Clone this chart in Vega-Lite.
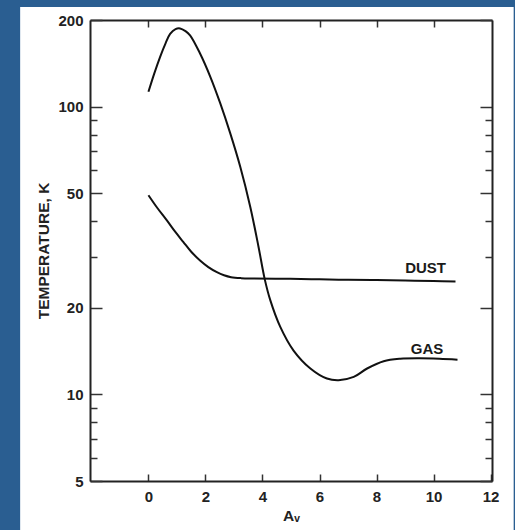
{
  "$schema": "https://vega.github.io/schema/vega-lite/v6.json",
  "width": 402,
  "height": 461,
  "autosize": {"type": "none"},
  "padding": {"left": 90, "top": 20, "right": 23, "bottom": 49},
  "background": "#2a5e91",
  "config": {
    "view": {"stroke": null},
    "font": "Liberation Sans",
    "axis": {
      "zindex": 1,
      "grid": false,
      "labelFont": "Liberation Sans",
      "labelFontWeight": "bold",
      "labelFontSize": 15,
      "labelColor": "#222222",
      "labelFlush": false,
      "labelOverlap": false,
      "titleFont": "Liberation Sans",
      "titleFontWeight": "bold",
      "titleFontSize": 15.5,
      "titleColor": "#222222",
      "tickColor": "#333333",
      "tickWidth": 1.5,
      "domainColor": "#222222",
      "domainWidth": 2
    }
  },
  "datasets": {
    "panel": [{"name": "panel"}],
    "gas": [
      {"av": 0, "t": 112.6}, {"av": 0.2, "t": 130}, {"av": 0.41, "t": 149}, {"av": 0.6, "t": 166},
      {"av": 0.76, "t": 179}, {"av": 0.95, "t": 186}, {"av": 1.11, "t": 187}, {"av": 1.3, "t": 183},
      {"av": 1.46, "t": 177}, {"av": 1.81, "t": 153}, {"av": 2.17, "t": 127}, {"av": 2.52, "t": 102.6},
      {"av": 2.87, "t": 80.7}, {"av": 3.22, "t": 61.8}, {"av": 3.57, "t": 44.9}, {"av": 3.86, "t": 32.6},
      {"av": 4.08, "t": 25.1}, {"av": 4.27, "t": 21.3}, {"av": 4.62, "t": 17.2}, {"av": 5.09, "t": 14.2},
      {"av": 5.68, "t": 12.3}, {"av": 6.26, "t": 11.35}, {"av": 6.67, "t": 11.2}, {"av": 7.2, "t": 11.5},
      {"av": 7.67, "t": 12.3}, {"av": 8.25, "t": 13.04}, {"av": 8.83, "t": 13.3}, {"av": 9.5, "t": 13.35},
      {"av": 10.2, "t": 13.3}, {"av": 10.84, "t": 13.2}
    ],
    "dust": [
      {"av": 0, "t": 49.2}, {"av": 0.3, "t": 44.6}, {"av": 0.64, "t": 40.3}, {"av": 0.95, "t": 36.6},
      {"av": 1.22, "t": 33.9}, {"av": 1.5, "t": 31.3}, {"av": 1.81, "t": 29.2}, {"av": 2.1, "t": 27.7},
      {"av": 2.4, "t": 26.6}, {"av": 2.65, "t": 25.95}, {"av": 2.9, "t": 25.55}, {"av": 3.25, "t": 25.35},
      {"av": 3.7, "t": 25.28}, {"av": 4.97, "t": 25.2}, {"av": 6.0, "t": 25.1}, {"av": 7.0, "t": 25.0},
      {"av": 8.0, "t": 24.95}, {"av": 9.0, "t": 24.85}, {"av": 10.0, "t": 24.75}, {"av": 10.77, "t": 24.7}
    ],
    "labels": [
      {"av": 9.72, "t": 27.6, "label": "DUST"},
      {"av": 9.77, "t": 14.43, "label": "GAS"}
    ]
  },
  "layer": [
    {
      "data": {"name": "panel"},
      "mark": {"type": "rect", "fill": "white"},
      "encoding": {
        "x": {
          "datum": -4.5, "type": "quantitative",
          "scale": {"domain": [-2.05, 12.05], "nice": false, "zero": false},
          "axis": {"orient": "bottom", "zindex": 2, "values": [0, 2, 4, 6, 8, 10, 12], "tickSize": -7, "labelPadding": 15, "title": "Aᵥ", "titlePadding": 4, "format": "d"}
        },
        "x2": {"datum": 12.81},
        "y": {
          "datum": 222, "type": "quantitative",
          "scale": {"type": "log", "domain": [5, 200], "nice": false},
          "axis": {"orient": "left", "zindex": 2, "values": [5, 10, 20, 50, 100, 200], "tickSize": -12, "labelPadding": 19, "title": "TEMPERATURE, K", "titlePadding": 6, "format": "d"}
        },
        "y2": {"datum": 3}
      }
    },
    {
      "data": {"name": "gas"},
      "mark": {"type": "line", "color": "#111111", "strokeWidth": 2, "interpolate": "catmull-rom"},
      "encoding": {
        "x": {
          "field": "av", "type": "quantitative",
          "scale": {"domain": [-2.05, 12.05], "nice": false, "zero": false},
          "axis": {"orient": "top", "zindex": 2, "values": [0, 2, 4, 6, 8, 10], "tickSize": -7, "labels": false, "title": null}
        },
        "y": {
          "field": "t", "type": "quantitative",
          "scale": {"type": "log", "domain": [5, 200], "nice": false},
          "axis": {"orient": "left", "zindex": 2, "values": [6, 7, 8, 9, 30, 40, 60, 70, 80, 90], "tickSize": -7, "labels": false, "domain": false, "title": null}
        }
      }
    },
    {
      "data": {"name": "dust"},
      "mark": {"type": "line", "color": "#111111", "strokeWidth": 2, "interpolate": "catmull-rom"},
      "encoding": {
        "x": {
          "field": "av", "type": "quantitative",
          "scale": {"domain": [-2.05, 12.05], "nice": false, "zero": false},
          "axis": null
        },
        "y": {
          "field": "t", "type": "quantitative",
          "scale": {"type": "log", "domain": [5, 200], "nice": false},
          "axis": {"orient": "right", "zindex": 2, "values": [5, 10, 20, 50, 100, 200], "tickSize": -12, "labels": false, "title": null}
        }
      }
    },
    {
      "data": {"name": "labels"},
      "mark": {"type": "text", "font": "Liberation Sans", "fontWeight": "bold", "fontSize": 15, "color": "#1a1a1a", "align": "center", "baseline": "middle"},
      "encoding": {
        "x": {
          "field": "av", "type": "quantitative",
          "scale": {"domain": [-2.05, 12.05], "nice": false, "zero": false},
          "axis": null
        },
        "y": {
          "field": "t", "type": "quantitative",
          "scale": {"type": "log", "domain": [5, 200], "nice": false},
          "axis": {"orient": "right", "zindex": 2, "values": [6, 7, 8, 9, 30, 40, 60, 70, 80, 90], "tickSize": -7, "labels": false, "domain": false, "title": null}
        },
        "text": {"field": "label"}
      }
    }
  ],
  "resolve": {"axis": {"x": "independent", "y": "independent"}}
}
